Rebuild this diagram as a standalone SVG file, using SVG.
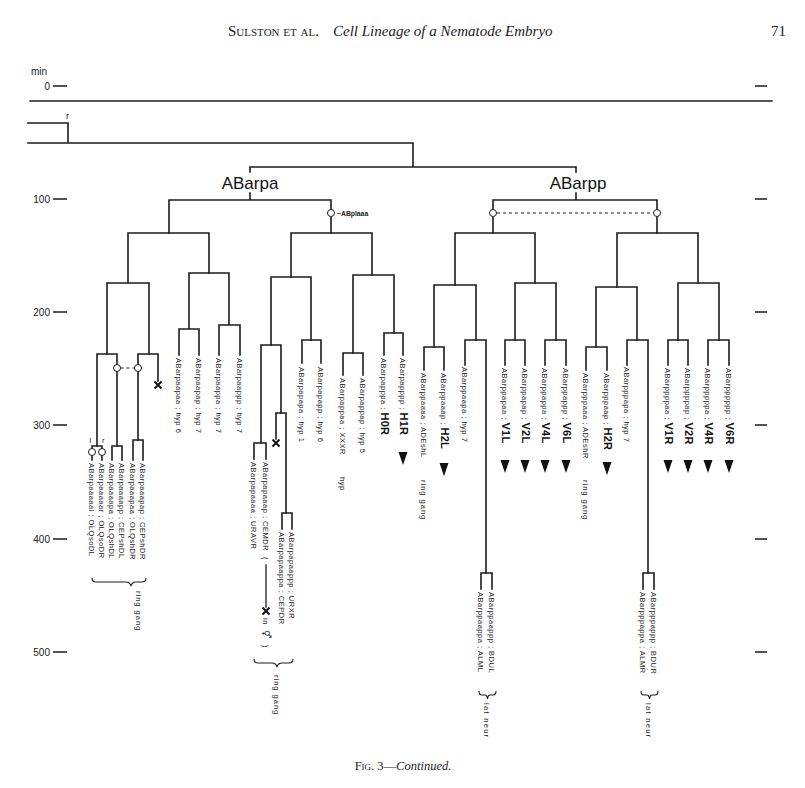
<svg xmlns="http://www.w3.org/2000/svg" width="805" height="788" viewBox="0 0 805 788">
<style>
.ln{stroke:#1c1c1c;stroke-width:1.6;fill:none;stroke-linecap:square}
.thin{stroke:#1c1c1c;stroke-width:1.1;fill:none}
.dsh{stroke:#1c1c1c;stroke-width:1.1;fill:none;stroke-dasharray:3 3}
.c{fill:#fff;stroke:#1c1c1c;stroke-width:1}
.t{font-family:"Liberation Sans",Arial,sans-serif;font-size:7.5px;letter-spacing:0.5px;fill:#222}
.b{font-weight:bold;font-size:11px;letter-spacing:0.3px;fill:#111}
.ax{font-family:"Liberation Sans",Arial,sans-serif;font-size:10px;fill:#222}
.lbl{font-family:"Liberation Sans",Arial,sans-serif;font-size:17px;fill:#111}
.hd{font-family:"Liberation Serif","Times New Roman",serif;fill:#222}
.arr{fill:#111}
</style>
<defs>
<path id="xm" d="M-3.5,-3.5 L3.5,3.5 M3.5,-3.5 L-3.5,3.5" stroke="#111" stroke-width="1.9" fill="none"/>
<polygon id="ar" points="-4.5,0 4.5,0 0,13"/>
</defs>

<!-- header -->
<g id="header">
<text class="hd" x="228" y="36" font-size="15" style="font-variant:small-caps">Sulston et al.</text>
<text class="hd" x="333" y="36" font-size="15" font-style="italic">Cell Lineage of a Nematode Embryo</text>
<text class="hd" x="771" y="36" font-size="15">71</text>
</g>

<!-- time axis -->
<g id="axis">
<text class="ax" x="31" y="75">min</text>
<text class="ax" x="50" y="89.5" text-anchor="end">0</text>
<text class="ax" x="50" y="202.5" text-anchor="end">100</text>
<text class="ax" x="50" y="315.5" text-anchor="end">200</text>
<text class="ax" x="50" y="428.5" text-anchor="end">300</text>
<text class="ax" x="50" y="542.5" text-anchor="end">400</text>
<text class="ax" x="50" y="655.5" text-anchor="end">500</text>
<path class="thin" style="stroke-width:1.3" d="M53,86H67M53,199H67M53,312H67M53,425H67M53,539H67M53,652H67"/>
<path class="thin" style="stroke-width:1.3" d="M755,86H767M755,199H767M755,312H767M755,425H767M755,539H767M755,652H767"/>
</g>

<!-- connectors -->
<g id="connectors">
<path class="ln" style="stroke-width:1.3" d="M30,101H772"/>
<path class="ln" d="M28,123H68V143M28,143H413V167M250,172V167H576V172"/>
<path class="ln" d="M250,193V200M169,233V200H331V233M576,193V200M493,233V200H657V233"/>
<path class="dsh" d="M497,213H653"/>
<!-- ABarpaa -->
<path class="ln" d="M128,283V233H209V273"/>
<path class="ln" d="M107,354V283H149V354"/>
<path class="ln" d="M97,446V354H117V446"/>
<path class="ln" d="M138,440V354H158V381"/>
<path class="dsh" d="M120.5,368H134.5"/>
<path class="ln" d="M92,460V446H102V460M112,460V446H122V460M133,460V440H143V460"/>
<path class="ln" d="M189,329V273H229V325M179,355V329H199V355M219,355V325H240V355"/>
<!-- ABarpap -->
<path class="ln" d="M291,277V233H372V275"/>
<path class="ln" d="M271,345V277H311V340"/>
<path class="ln" d="M261,443V345H281V413"/>
<path class="ln" d="M254,459V443H266V459"/>
<path class="ln" d="M276,439V413H286V513"/>
<path class="ln" d="M282,529V513H292V529"/>
<path class="ln" d="M302,363V340H321V363"/>
<path class="ln" d="M353,353V275H394V333"/>
<path class="ln" d="M343,375V353H363V375"/>
<path class="ln" d="M384,355V333H403V355"/>
<!-- ABarppa -->
<path class="ln" d="M455,285V233H535V283"/>
<path class="ln" d="M434,347V285H476V340"/>
<path class="ln" d="M424,370V347H444V370"/>
<path class="ln" d="M465,365V340H486V573"/>
<path class="ln" d="M481,589V573H492V589"/>
<path class="ln" d="M515,340V283H556V340"/>
<path class="ln" d="M505,365V340H525V365M545,365V340H566V365"/>
<!-- ABarppp -->
<path class="ln" d="M617,287V233H698V283"/>
<path class="ln" d="M596,347V287H637V340"/>
<path class="ln" d="M586,370V347H607V370"/>
<path class="ln" d="M627,365V340H648V573"/>
<path class="ln" d="M643,589V573H654V589"/>
<path class="ln" d="M678,340V283H719V340"/>
<path class="ln" d="M668,365V340H688V365M708,365V340H729V365"/>
<!-- CEM line -->
<path class="ln" style="stroke-width:1.3" d="M266,565V607"/>
<!-- braces -->
<path class="thin" d="M92,578Q92,582 96,582H126Q130,582 131,586Q132,582 136,582H142Q146,582 146,578"/>
<path class="thin" d="M254,659Q254,663 258,663H272Q276,663 277,667Q278,663 282,663H289Q293,663 293,659"/>
<path class="thin" d="M479,691Q479,695 482,695H485Q487,695 487.5,699Q488,695 490,695H493Q496,695 496,691"/>
<path class="thin" d="M641,691Q641,695 644,695H647Q649,695 649.5,699Q650,695 652,695H655Q658,695 658,691"/>
</g>

<!-- markers: circles, deaths -->
<g id="marks">
<circle class="c" cx="331" cy="213" r="3.5"/>
<circle class="c" cx="493" cy="213" r="3.5"/>
<circle class="c" cx="657" cy="213" r="3.5"/>
<circle class="c" cx="117" cy="368" r="3.5"/>
<circle class="c" cx="138" cy="368" r="3.5"/>
<circle class="c" cx="92" cy="452" r="3.5"/>
<circle class="c" cx="102" cy="452" r="3.5"/>
<use href="#xm" x="158" y="385"/>
<use href="#xm" x="276" y="443"/>
<use href="#xm" x="266" y="611"/>
<text x="337" y="215.5" font-family="Liberation Sans,sans-serif" font-size="6.8" font-weight="bold" fill="#222">~ABplaaa</text>
<text x="66" y="119" font-family="Liberation Sans,sans-serif" font-size="9" fill="#222">r</text>
<text x="89.5" y="443" font-family="Liberation Sans,sans-serif" font-size="7.5" fill="#222">l</text>
<text x="102" y="443" font-family="Liberation Sans,sans-serif" font-size="7.5" fill="#222">r</text>
</g>

<g id="ABarpa"><text class="lbl" x="250" y="189" text-anchor="middle">ABarpa</text></g>
<g id="ABarpp"><text class="lbl" x="578" y="189" text-anchor="middle">ABarpp</text></g>

<!-- leaves -->
<g id="ABarpaaaaal"><text class="t" transform="translate(92,463) rotate(90)" dy="0.35em">ABarpaaaaal ; OLQsoDL</text></g>
<g id="ABarpaaaaar"><text class="t" transform="translate(102,463) rotate(90)" dy="0.35em">ABarpaaaaar ; OLQsoDR</text></g>
<g id="ABarpaaaapa"><text class="t" transform="translate(112,463) rotate(90)" dy="0.35em">ABarpaaaapa ; OLQshDL</text></g>
<g id="ABarpaaaapp"><text class="t" transform="translate(122,463) rotate(90)" dy="0.35em">ABarpaaaapp ; CEPshDL</text></g>
<g id="ABarpaaapaa"><text class="t" transform="translate(133,463) rotate(90)" dy="0.35em">ABarpaaapaa ; OLQshDR</text></g>
<g id="ABarpaaapap"><text class="t" transform="translate(143,463) rotate(90)" dy="0.35em">ABarpaaapap ; CEPshDR</text></g>
<g id="ringgang1"><text class="t" transform="translate(139,591) rotate(90)" dy="0.35em" style="letter-spacing:1px">ring gang</text></g>

<g id="ABarpaapaa"><text class="t" transform="translate(179,358) rotate(90)" dy="0.35em">ABarpaapaa ; hyp 6</text></g>
<g id="ABarpaapap"><text class="t" transform="translate(199,358) rotate(90)" dy="0.35em">ABarpaapap ; hyp 7</text></g>
<g id="ABarpaappa"><text class="t" transform="translate(219,358) rotate(90)" dy="0.35em">ABarpaappa ; hyp 7</text></g>
<g id="ABarpaappp"><text class="t" transform="translate(240,358) rotate(90)" dy="0.35em">ABarpaappp ; hyp 7</text></g>

<g id="ABarpapaaaa"><text class="t" transform="translate(254,462) rotate(90)" dy="0.35em">ABarpapaaaa ; URAVR</text></g>
<g id="ABarpapaaap"><text class="t" transform="translate(266,462) rotate(90)" dy="0.35em">ABarpapaaap ; CEMDR</text>
<text class="t" transform="translate(266,557) rotate(90)" dy="0.35em">(</text>
<text class="t" transform="translate(266,618) rotate(90)" dy="0.35em">in</text>
<text transform="translate(266,630) rotate(90)" dy="0.35em" font-family="DejaVu Sans,sans-serif" font-size="9" fill="#222">⚥</text>
<text class="t" transform="translate(266,645) rotate(90)" dy="0.35em">)</text></g>
<g id="ABarpapaappa"><text class="t" transform="translate(282,532) rotate(90)" dy="0.35em">ABarpapaappa ; CEPDR</text></g>
<g id="ABarpapaappp"><text class="t" transform="translate(292,532) rotate(90)" dy="0.35em">ABarpapaappp ; URXR</text></g>
<g id="ringgang2"><text class="t" transform="translate(277,675) rotate(90)" dy="0.35em" style="letter-spacing:1px">ring gang</text></g>
<g id="ABarpapapa"><text class="t" transform="translate(302,367) rotate(90)" dy="0.35em">ABarpapapa ; hyp 1</text></g>
<g id="ABarpapapp"><text class="t" transform="translate(321,367) rotate(90)" dy="0.35em">ABarpapapp ; hyp 6</text></g>
<g id="ABarpappaa"><text class="t" transform="translate(343,378) rotate(90)" dy="0.35em">ABarpappaa ; XXXR</text>
<text class="t" transform="translate(343,477) rotate(90)" dy="0.35em">hyp</text></g>
<g id="ABarpappap"><text class="t" transform="translate(363,378) rotate(90)" dy="0.35em">ABarpappap ; hyp 5</text></g>
<g id="ABarpapppa"><text class="t" transform="translate(384,358) rotate(90)" dy="0.35em">ABarpapppa ; <tspan class="b">H0R</tspan></text></g>
<g id="ABarpapppp"><text class="t" transform="translate(403,358) rotate(90)" dy="0.35em">ABarpapppp ; <tspan class="b">H1R</tspan></text><use href="#ar" class="arr" x="403" y="452"/></g>

<g id="ABarppaaaa"><text class="t" transform="translate(424,373) rotate(90)" dy="0.35em">ABarppaaaa ; ADEshL</text>
<text class="t" transform="translate(424,480) rotate(90)" dy="0.35em" style="letter-spacing:1px">ring gang</text></g>
<g id="ABarppaaap"><text class="t" transform="translate(444,373) rotate(90)" dy="0.35em">ABarppaaap ; <tspan class="b">H2L</tspan></text><use href="#ar" class="arr" x="444" y="463"/></g>
<g id="ABarppaapa"><text class="t" transform="translate(465,367) rotate(90)" dy="0.35em">ABarppaapa ; hyp 7</text></g>
<g id="ABarppaappa"><text class="t" transform="translate(481,592) rotate(90)" dy="0.35em">ABarppaappa ; ALML</text></g>
<g id="ABarppaappp"><text class="t" transform="translate(492,592) rotate(90)" dy="0.35em">ABarppaappp ; BDUL</text></g>
<g id="latneur1"><text class="t" transform="translate(487,703) rotate(90)" dy="0.35em" style="letter-spacing:1.3px">lat neur</text></g>
<g id="ABarppapaa"><text class="t" transform="translate(505,368) rotate(90)" dy="0.35em">ABarppapaa ; <tspan class="b">V1L</tspan></text><use href="#ar" class="arr" x="505" y="460"/></g>
<g id="ABarppapap"><text class="t" transform="translate(525,368) rotate(90)" dy="0.35em">ABarppapap ; <tspan class="b">V2L</tspan></text><use href="#ar" class="arr" x="525" y="460"/></g>
<g id="ABarppappa"><text class="t" transform="translate(545,368) rotate(90)" dy="0.35em">ABarppappa ; <tspan class="b">V4L</tspan></text><use href="#ar" class="arr" x="545" y="460"/></g>
<g id="ABarppappp"><text class="t" transform="translate(566,368) rotate(90)" dy="0.35em">ABarppappp ; <tspan class="b">V6L</tspan></text><use href="#ar" class="arr" x="566" y="460"/></g>

<g id="ABarpppaaa"><text class="t" transform="translate(586,373) rotate(90)" dy="0.35em">ABarpppaaa ; ADEshR</text>
<text class="t" transform="translate(586,480) rotate(90)" dy="0.35em" style="letter-spacing:1px">ring gang</text></g>
<g id="ABarpppaap"><text class="t" transform="translate(607,373) rotate(90)" dy="0.35em">ABarpppaap ; <tspan class="b">H2R</tspan></text><use href="#ar" class="arr" x="607" y="462"/></g>
<g id="ABarpppapa"><text class="t" transform="translate(627,367) rotate(90)" dy="0.35em">ABarpppapa ; hyp 7</text></g>
<g id="ABarpppappa"><text class="t" transform="translate(643,592) rotate(90)" dy="0.35em">ABarpppappa ; ALMR</text></g>
<g id="ABarpppappp"><text class="t" transform="translate(654,592) rotate(90)" dy="0.35em">ABarpppappp ; BDUR</text></g>
<g id="latneur2"><text class="t" transform="translate(649,703) rotate(90)" dy="0.35em" style="letter-spacing:1.3px">lat neur</text></g>
<g id="ABarppppaa"><text class="t" transform="translate(668,368) rotate(90)" dy="0.35em">ABarppppaa ; <tspan class="b">V1R</tspan></text><use href="#ar" class="arr" x="668" y="460"/></g>
<g id="ABarppppap"><text class="t" transform="translate(688,368) rotate(90)" dy="0.35em">ABarppppap ; <tspan class="b">V2R</tspan></text><use href="#ar" class="arr" x="688" y="460"/></g>
<g id="ABarpppppa"><text class="t" transform="translate(708,368) rotate(90)" dy="0.35em">ABarpppppa ; <tspan class="b">V4R</tspan></text><use href="#ar" class="arr" x="708" y="460"/></g>
<g id="ABarpppppp"><text class="t" transform="translate(729,368) rotate(90)" dy="0.35em">ABarpppppp ; <tspan class="b">V6R</tspan></text><use href="#ar" class="arr" x="729" y="460"/></g>

<g id="caption">
<text class="hd" x="403" y="770" font-size="12.5" text-anchor="middle"><tspan style="font-variant:small-caps">Fig. 3</tspan>—<tspan font-style="italic">Continued.</tspan></text>
</g>
</svg>
